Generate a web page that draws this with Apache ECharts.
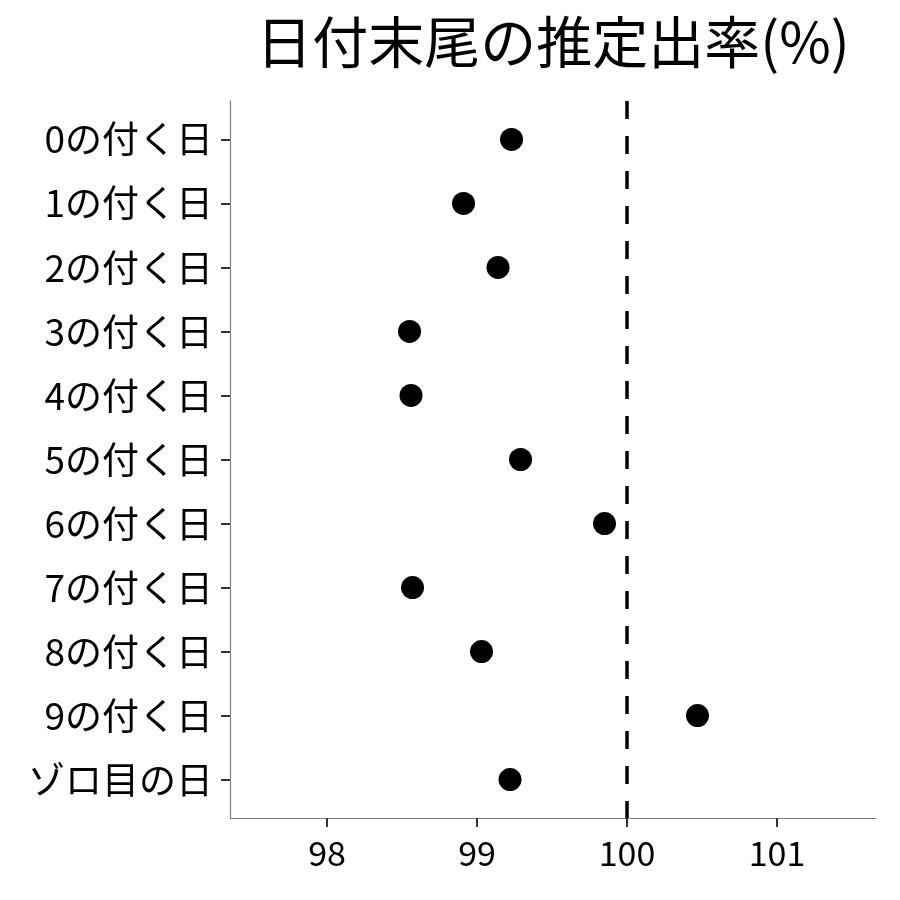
<!DOCTYPE html>
<html>
<head>
<meta charset="utf-8">
<script src="https://cdn.jsdelivr.net/npm/echarts@6/dist/echarts.min.js"></script>
<style>
    html, body { margin: 0; padding: 0; background: #fff; }
    #chart { width: 900px; height: 900px; }
</style>
</head>
<body>
<div id="chart"></div>
<script>
// 日付末尾ごとの推定出率
const categories = ['0の付く日', '1の付く日', '2の付く日', '3の付く日', '4の付く日', '5の付く日',
    '6の付く日', '7の付く日', '8の付く日', '9の付く日', 'ゾロ目の日']
const rates = [99.23, 98.91, 99.14, 98.55, 98.56, 99.29, 99.85, 98.57, 99.03, 100.47, 99.22]
const xTicks = [98, 99, 100, 101]
const refLine = 100

const font = 'Noto Sans CJK JP'
const rowIndex = categories.map((c, i) => i)

const chart = echarts.init(document.getElementById('chart'))
chart.setOption({
    animation: false,
    backgroundColor: '#fff',
    title: {
        text: '日付末尾の推定出率(%)',
        left: 548,
        top: 9,
        textAlign: 'center',
        textStyle: { fontFamily: font, fontSize: 56, fontWeight: 'normal', color: '#000' }
    },
    grid: { left: 230, right: 24, top: 101, bottom: 82 },
    xAxis: {
        type: 'value',
        min: 97.353,
        max: 101.66,
        axisLine: { show: true, onZero: false, lineStyle: { color: '#7f7f7f', width: 1.2 } },
        axisTick: { show: true, customValues: xTicks, length: 9, lineStyle: { color: '#333', width: 2 } },
        axisLabel: { customValues: xTicks, margin: 18, fontFamily: font, fontSize: 34, color: '#000' },
        splitLine: { show: false }
    },
    yAxis: {
        type: 'value',
        inverse: true,
        min: -0.6,
        max: 10.6,
        axisLine: { show: true, onZero: false, lineStyle: { color: '#7f7f7f', width: 1.2 } },
        axisTick: { show: true, customValues: rowIndex, length: 9, lineStyle: { color: '#333', width: 2 } },
        axisLabel: {
            customValues: rowIndex,
            margin: 17,
            fontFamily: font,
            fontSize: 37,
            color: '#000',
            formatter: v => categories[Math.round(v)]
        },
        splitLine: { show: false }
    },
    series: [{
        type: 'scatter',
        data: rates.map((r, i) => [r, i]),
        symbol: 'circle',
        symbolSize: 23,
        itemStyle: { color: '#000', opacity: 1 },
        markLine: {
            silent: true,
            symbol: 'none',
            label: { show: false },
            lineStyle: { color: '#000', width: 3.5, type: [18, 17] },
            data: [{ xAxis: refLine }]
        }
    }]
})
</script>
</body>
</html>
